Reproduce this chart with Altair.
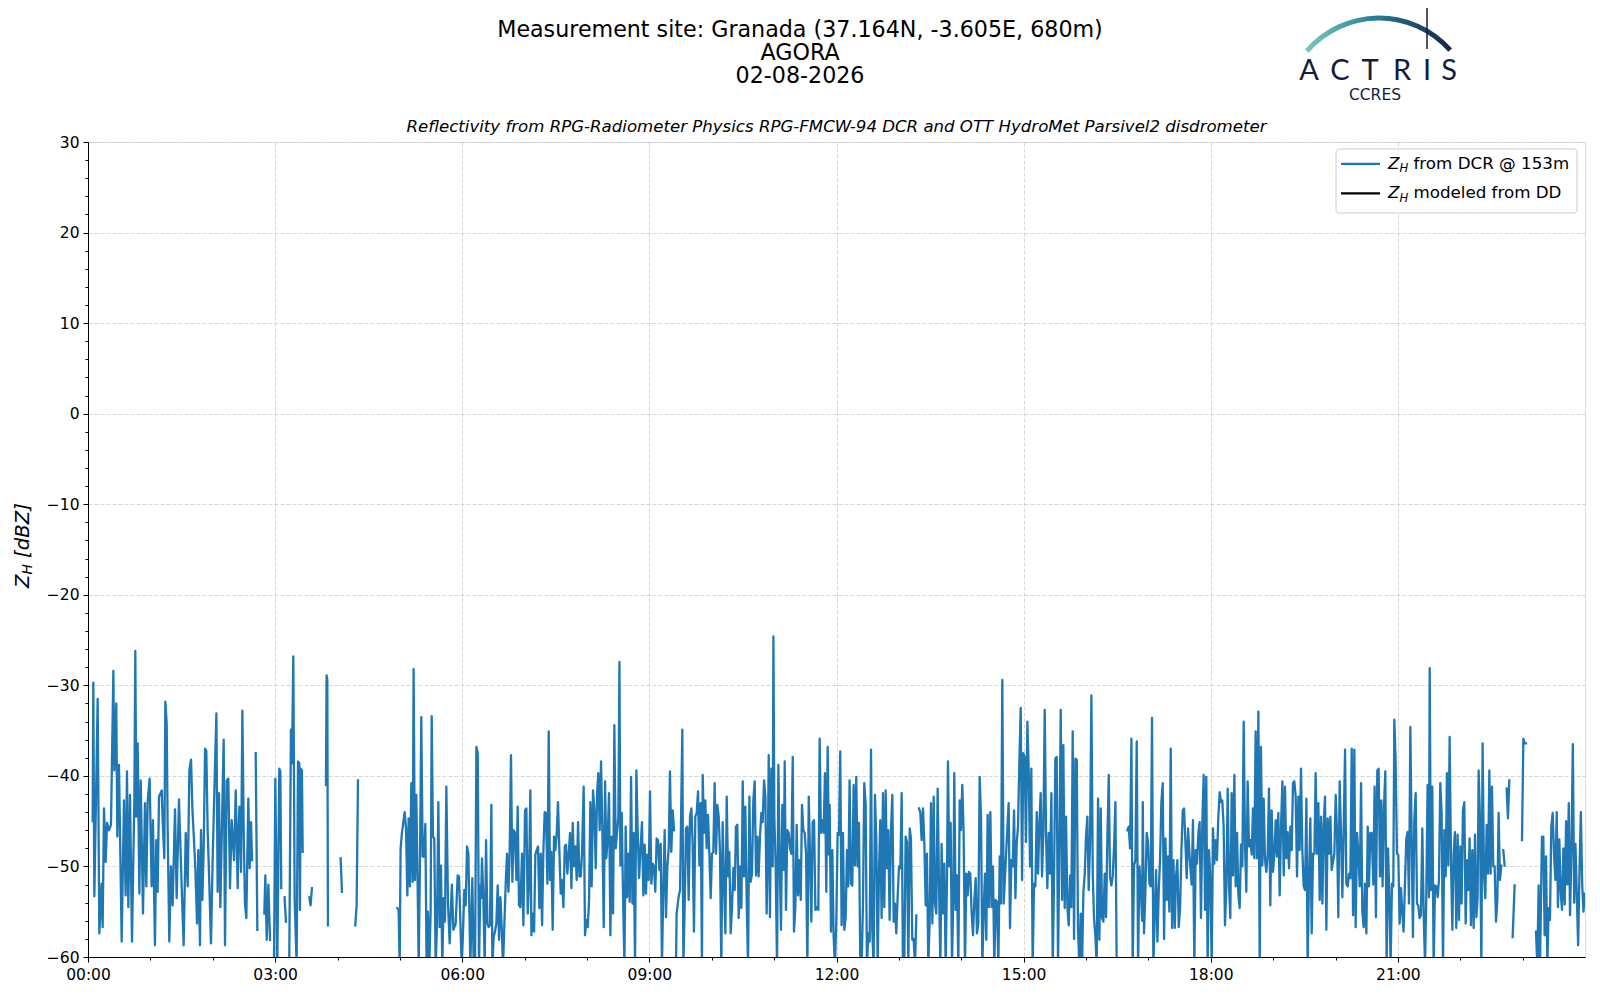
import altair as alt
import pandas as pd

# ---------------- data: (minutes after 00:00 UTC, Z_H in dBZ); None = data gap ----------------
w00_03 = [(4.5,-45.0),(5.1,-29.7),(6.1,-53.3),(9.3,-31.5),(10.9,-57.4),(13.1,-51.9),(14.1,-56.7),(15.4,-43.6),(17.0,-49.5),(18.3,-45.2),(20.2,-46.0),(22.1,-45.4),(24.4,-28.4),(25.3,-39.4),(27.2,-32.0),(28.2,-46.7),(29.8,-38.8),(32.4,-58.3),(34.6,-42.7),(36.2,-53.2),(37.5,-39.5),(38.8,-54.5),(40.4,-42.1),(42.3,-58.3),(44.6,-42.3),(45.5,-26.2),(46.5,-44.5),(47.8,-36.4),(49.4,-53.0),(50.7,-40.5),(52.9,-55.2),(54.8,-43.0),(56.1,-52.2),(57.4,-42.8),(59.3,-40.3),(61.2,-52.2),(62.5,-44.9),(64.4,-58.7),(65.7,-47.1),(67.0,-52.8),(68.3,-42.3),(70.9,-41.6),(71.8,-44.9),(73.4,-49.1),(74.4,-31.8),(75.7,-34.2),(76.6,-45.6),(78.2,-58.3),(79.8,-50.0),(81.4,-54.3),(83.7,-43.7),(85.3,-53.5),(87.5,-42.6),(90.1,-52.2),(92.0,-58.7),(94.0,-46.3),(95.9,-52.2),(97.5,-39.4),(99.1,-38.2),(100.4,-43.6),(101.6,-46.3),(103.3,-50.4),(104.9,-56.3),(106.1,-48.2),(107.7,-58.7),(108.7,-46.0),(110.0,-53.7),(111.3,-47.8),(112.6,-37.0),(113.8,-37.2),(115.1,-46.0),(116.7,-51.9),(118.3,-58.5),(119.9,-49.3),(121.5,-41.9),(123.5,-33.1),(124.7,-52.8),(126.0,-41.9),(127.3,-54.5),(129.2,-43.4),(130.5,-36.0),(131.8,-58.7),(133.4,-40.5),(135.0,-40.3),(136.6,-52.4),(138.2,-44.9),(140.5,-49.3),(142.1,-41.6),(144.0,-52.4),(144.6,-47.1),(145.6,-43.4),(147.2,-50.6),(148.5,-32.8),(149.8,-46.3),(151.0,-54.1),(152.3,-55.7),(154.2,-42.5),(155.5,-50.2),(156.8,-45.1),(157.8,-49.3),None,(161.3,-37.5),(162.9,-57.0),None,(169.6,-55.2),(170.6,-51.0),(171.9,-58.1),(173.5,-52.0),(175.1,-58.1),None,(178.9,-61.0)]

w03_06 = [(180.2,-40.3),(182.1,-61.0),(184.0,-39.2),(185.0,-39.5),(185.9,-52.4),None,(189.1,-53.4),(190.4,-56.1),None,(193.5,-62.0),(195.2,-34.9),(196.2,-38.6),(197.5,-26.8),(198.8,-53.7),(200.7,-61.0),(202.0,-38.4),(203.2,-38.6),(203.9,-54.8),(204.5,-39.2),(205.8,-39.4),(206.5,-48.4),None,(212.9,-53.4),(214.1,-54.3),(215.4,-52.4),None,(228.9,-41.0),(229.5,-28.9),(230.2,-29.4),(230.8,-56.5),None,(243.0,-49.1),(244.3,-52.8),None,(257.1,-56.5),(258.4,-54.3),(259.7,-40.5),None,(297.5,-54.6),(298.8,-54.8),(299.8,-61.0),(300.7,-48.0),(302.0,-46.3),(304.6,-44.0),(305.9,-45.8),(307.2,-53.2),(308.4,-44.7),(309.7,-52.2),(311.0,-40.8),(312.3,-51.7),(313.2,-28.2),(314.5,-51.5),(315.8,-42.1),(317.1,-52.2),(318.1,-61.0),(319.3,-50.0),(320.6,-33.5),(321.9,-48.9),(323.2,-48.9),(324.5,-45.3),(325.7,-61.0),(327.0,-55.0),(328.3,-61.0),(329.6,-55.0),(330.6,-33.4),(331.8,-46.7),(333.1,-46.9),(334.4,-61.0),(335.7,-56.5),(337.0,-42.9),(338.3,-56.7),(339.5,-49.9),(340.8,-61.0),(342.1,-53.5),(343.4,-56.1),(344.7,-41.2),(346.3,-54.1),(347.9,-58.5),(350.0,-52.0),(351.5,-57.0),(353.7,-56.3),(355.6,-51.0),(356.9,-51.1)]

w06_09 = [(359.5,-61.0),(360.7,-57.4),(362.0,-52.6),(363.3,-54.3),(364.6,-47.8),(365.9,-48.6),(367.8,-61.0),(369.7,-51.3),(371.0,-61.0),(372.3,-61.0),(373.6,-36.8),(374.9,-37.5),(376.1,-61.0),(377.4,-52.1),(378.1,-53.5),(379.0,-49.1),(380.3,-53.5),(381.6,-61.0),(382.9,-47.1),(384.2,-56.3),(385.4,-56.7),(386.7,-56.5),(388.0,-43.2),(389.0,-61.0),(390.2,-57.8),(391.5,-57.2),(392.8,-56.3),(394.1,-52.1),(395.4,-58.1),(396.7,-53.4),(397.9,-56.5),(399.2,-61.0),(400.5,-56.5),(401.8,-51.9),(403.1,-48.6),(404.4,-52.8),(405.6,-48.6),(406.9,-37.7),(408.2,-51.7),(409.5,-46.0),(410.8,-46.3),(412.1,-51.5),(413.3,-43.4),(414.6,-54.3),(415.9,-54.5),(417.5,-48.6),(418.8,-56.5),(420.4,-43.8),(421.7,-43.6),(423.0,-55.2),(424.2,-51.7),(425.5,-41.6),(426.5,-57.6),(427.8,-55.2),(429.1,-57.2),(430.3,-48.7),(431.6,-48.2),(432.9,-47.8),(434.2,-54.6),(435.5,-48.6),(436.8,-56.5),(438.0,-48.4),(439.3,-44.0),(440.6,-44.1),(441.9,-51.9),(443.2,-35.1),(444.4,-51.5),(445.7,-48.4),(447.0,-57.0),(448.3,-46.7),(449.6,-48.2),(450.9,-46.3),(452.1,-42.9),(453.4,-48.2),(454.7,-53.0),(456.0,-51.5),(457.3,-54.5),(458.6,-47.8),(459.8,-47.6),(461.1,-50.8),(462.4,-48.6),(463.7,-46.3),(465.0,-52.4),(466.3,-45.2),(467.5,-50.0),(468.8,-47.8),(470.1,-51.5),(471.4,-45.1),(472.7,-51.1),(474.0,-51.1),(475.2,-48.6),(476.8,-41.2),(478.1,-57.6),(479.4,-55.9),(480.7,-56.7),(482.0,-53.7),(483.2,-42.9),(484.5,-52.2),(485.8,-41.6),(487.1,-43.8),(488.4,-50.2),(489.7,-41.9),(490.9,-39.7),(492.2,-46.0),(493.5,-38.4),(494.8,-46.3),(496.1,-56.7),(497.4,-40.6),(498.6,-49.1),(499.9,-46.9),(501.2,-41.9),(502.5,-57.6),(503.8,-46.7),(505.1,-55.2),(506.3,-34.4),(507.6,-48.0),(508.9,-46.3),(510.2,-44.5),(511.2,-27.4),(512.1,-49.9),(513.4,-44.1),(514.7,-53.5),(516.0,-61.0),(517.2,-45.6),(518.5,-53.4),(519.8,-48.6),(521.1,-53.9),(522.4,-40.1),(523.7,-54.1),(524.9,-46.3),(526.2,-61.0),(527.5,-39.4),(528.8,-46.3),(530.1,-51.3),(531.4,-48.2)]

w09_12 = [(532.9,-45.1),(534.2,-53.2),(535.5,-47.6),(536.7,-53.0),(538.0,-48.7),(539.3,-51.5),(540.6,-41.7),(541.9,-51.9),(543.2,-49.7),(544.4,-50.0),(545.7,-52.8),(547.0,-46.9),(548.3,-47.1),(549.6,-50.4),(550.9,-47.5),(552.1,-61.0),(553.4,-52.6),(554.7,-46.0),(556.0,-55.6),(557.3,-50.0),(558.6,-48.0),(559.8,-39.5),(561.1,-48.4),(562.4,-43.8),(563.7,-46.0),None,(565.6,-61.0),(566.2,-55.2),(568.2,-53.3),(569.5,-52.6),(571.7,-34.9),(572.7,-61.0),(574.0,-54.1),(575.2,-45.8),(576.5,-45.6),(577.8,-53.7),(579.1,-44.5),(580.4,-43.6),(581.6,-47.5),(582.9,-57.2),(584.2,-44.5),(585.5,-44.1),(586.8,-41.7),(588.1,-49.9),(589.3,-43.0),(590.6,-61.0),(591.3,-39.9),(592.5,-46.3),(593.8,-42.7),(595.1,-48.0),(596.4,-44.3),(597.7,-48.6),(599.0,-53.5),(600.2,-48.6),(601.5,-48.4),(602.8,-40.8),(604.1,-48.6),(605.4,-43.2),(606.7,-44.5),(607.9,-48.4),(609.2,-61.0),(610.5,-45.1),(611.8,-51.7),(613.1,-57.4),(614.4,-42.3),(615.7,-51.1),(616.9,-48.4),(618.2,-57.4),(619.5,-54.5),(620.8,-50.2),(622.1,-52.6),(623.3,-45.6),(624.6,-45.4),(625.9,-55.7),(627.2,-50.0),(628.5,-54.6),(629.8,-40.6),(631.0,-51.1),(632.3,-43.4),(633.6,-53.7),(634.9,-61.0),(636.2,-42.3),(637.4,-51.7),(638.7,-50.8),(640.0,-42.7),(641.3,-40.6),(642.6,-51.0),(643.9,-46.7),(645.1,-51.1),(646.4,-46.7),(647.7,-44.1),(649.0,-45.1),(650.3,-40.5),(651.6,-42.3),(652.8,-55.2),(654.1,-46.9),(654.8,-37.7),(656.0,-55.6),(657.3,-39.2),(658.6,-50.0),(659.3,-24.6),(660.2,-44.5),(661.5,-50.0),(662.8,-61.0),(664.1,-38.8),(665.4,-49.7),(666.6,-57.0),(667.9,-43.2),(669.2,-50.4),(670.2,-38.4),(671.4,-54.8),(672.7,-46.0),(674.0,-46.3),(675.3,-48.0),(676.6,-48.6),(677.9,-37.9),(679.1,-57.2),(680.4,-54.5),(681.7,-45.4),(683.0,-53.2),(684.3,-49.3),(685.6,-53.7),(686.8,-43.2),(688.1,-46.0),(689.4,-46.3),(690.7,-48.6),(692.0,-61.0),(693.3,-42.3),(694.5,-48.6),(695.8,-56.1),(697.1,-45.1),(698.4,-44.9),(699.7,-54.8),(701.0,-54.5)]

w12_15 = [(702.5,-54.8),(703.8,-35.9),(705.0,-46.3),(706.3,-44.9),(707.6,-46.3),(708.9,-39.7),(710.2,-52.8),(711.5,-36.8),(712.7,-48.7),(713.4,-43.2),(714.7,-57.2),(716.0,-48.2),(717.2,-57.6),(718.5,-61.0),(719.8,-56.1),(721.1,-46.3),(722.4,-46.5),(723.6,-37.3),(724.9,-56.5),(726.2,-46.3),(727.5,-57.0),(728.8,-55.7),(730.1,-48.2),(731.3,-52.2),(732.6,-40.5),(733.9,-51.9),(735.2,-52.1),(736.5,-41.0),(737.8,-49.9),(739.0,-40.1),(740.3,-50.0),(741.6,-45.2),(742.9,-61.0),(744.2,-61.0),(745.5,-53.9),(746.7,-40.8),(748.0,-43.0),(749.3,-61.0),(750.6,-57.4),(751.9,-58.3),(753.2,-37.1),(754.4,-57.0),(755.7,-61.0),(757.0,-42.1),(758.3,-47.1),(759.6,-61.0),(760.9,-50.4),(762.1,-44.9),(763.4,-55.7),(764.7,-41.9),(766.0,-54.5),(767.3,-41.6),(768.5,-50.2),(769.8,-46.0),(771.1,-55.9),(772.4,-46.0),(773.7,-42.1),(775.0,-56.1),(776.2,-54.1),(777.5,-57.4),(778.8,-53.4),(780.1,-50.0),(781.4,-50.2),(782.7,-41.9),(783.9,-61.0),(785.2,-61.0),(786.5,-46.7),(787.8,-47.3),(789.1,-61.0),(790.4,-45.8),(791.6,-46.9),(792.9,-58.1),(794.2,-58.0),(795.5,-61.0),(796.8,-55.4),None,(799.3,-43.6),(800.6,-44.0),(801.9,-47.1),(803.2,-43.6),(804.5,-47.5),(805.8,-54.3),(807.0,-48.6),(808.3,-61.0),(809.6,-56.1),(810.9,-43.0),(812.2,-56.3),(813.5,-42.3),(814.7,-54.1),(816.0,-55.2),(817.3,-41.4),(818.6,-51.9),(819.9,-61.0),(821.1,-47.5),(822.4,-55.2),(823.7,-49.7),(825.0,-61.0),(826.3,-51.1),(827.2,-38.4),(828.5,-50.0),(829.8,-45.2),(831.1,-61.0),(832.4,-53.0),(833.3,-39.7),(834.6,-54.8),(835.9,-51.0),(837.2,-61.0),(838.5,-42.7),(839.7,-46.0),(841.0,-41.0),(842.3,-46.3),(843.6,-61.0),(844.9,-50.8),(846.2,-53.2),(847.4,-50.6),(848.7,-50.8),(850.0,-55.2),(851.3,-57.6),(852.6,-53.7),(853.9,-51.3),(855.1,-57.4),(856.4,-56.3),(857.7,-40.1),(859.0,-44.5),(860.3,-61.0),(861.6,-54.8),(862.8,-50.8),(864.1,-58.1),(865.4,-44.3),(866.7,-54.5),(868.0,-44.0),(869.3,-54.5),(870.5,-50.0),(871.8,-61.0),(873.1,-53.7),(874.4,-53.9),(875.7,-61.0),(877.0,-48.9),(878.2,-54.1),(879.5,-29.4),(880.8,-54.1),(882.1,-51.1),(883.4,-48.0)]

w15_18 = [(885.6,-43.0),(886.9,-56.8),(888.2,-49.3),(889.5,-50.0),(890.8,-43.8),(892.1,-53.5),(893.3,-47.5),(894.6,-45.6),(895.9,-38.4),(897.2,-32.5),(898.5,-51.5),(899.7,-37.5),(901.0,-37.9),(902.3,-47.3),(903.6,-34.0),(904.9,-39.4),(906.2,-50.0),(907.4,-39.2),(908.7,-61.0),(910.0,-51.9),(911.3,-52.2),(912.6,-44.0),(913.9,-50.8),(915.1,-45.4),(916.4,-41.9),(917.7,-51.1),(919.0,-46.0),(920.3,-32.7),(921.6,-46.9),(922.8,-52.4),(924.1,-46.3),(925.4,-50.8),(926.7,-41.9),(928.0,-61.0),(929.3,-50.8),(930.5,-38.1),(931.8,-37.9),(933.1,-61.0),(934.4,-47.5),(935.7,-32.7),(937.0,-53.7),(938.2,-36.6),(939.5,-54.6),(940.8,-44.5),(942.1,-54.5),(943.4,-56.5),(944.7,-51.0),(945.9,-54.5),(947.2,-35.1),(948.5,-58.0),(949.8,-38.1),(951.1,-38.2),(952.3,-56.8),(953.6,-61.0),(954.9,-55.2),(956.2,-61.0),(957.5,-52.8),(958.8,-50.8),(960.0,-46.7),(961.3,-44.5),(962.6,-52.6),(963.9,-47.3),(965.2,-31.1),(966.5,-50.8),(967.7,-55.7),(969.0,-57.6),(970.3,-61.0),(971.6,-42.5),(972.9,-58.1),(974.2,-43.6),(975.4,-55.7),(976.7,-56.1),(978.0,-50.8),(979.3,-55.6),(980.6,-46.7),(981.9,-39.9),(983.1,-51.1),(984.4,-52.1),(985.7,-51.1),(987.0,-47.8),(988.3,-42.9),(989.5,-61.0),None,(999.8,-46.0),(1001.1,-45.6),(1002.4,-48.0),(1003.7,-35.9),(1004.9,-61.0),(1006.2,-49.9),(1007.5,-49.3),(1008.8,-36.2),(1010.1,-61.0),(1011.4,-50.0),(1012.6,-52.0),(1014.0,-56.0),(1014.6,-42.9),(1015.8,-57.4),(1017.1,-53.0),(1018.4,-46.3),(1019.7,-47.3),(1021.0,-51.9),(1022.3,-52.2),(1023.5,-33.6),(1024.8,-61.0),(1026.1,-55.6),(1027.4,-50.4),(1028.7,-58.3),(1030.0,-52.6),(1031.2,-49.3),(1032.5,-42.9),(1033.8,-40.8),(1035.1,-58.0),(1036.4,-46.9),(1037.7,-53.7),(1038.9,-48.9),(1040.2,-55.0),(1041.5,-37.0),(1042.8,-56.8),(1044.1,-49.3),(1045.4,-56.8),(1046.6,-51.1),(1047.9,-49.3),(1049.2,-56.7),(1050.5,-54.6),(1051.8,-48.2),(1053.1,-43.8),(1054.3,-43.6),(1055.6,-47.3),(1056.9,-51.3),(1058.2,-45.8)]

w18_21 = [(1059.7,-49.0),(1061.6,-52.0),(1062.9,-44.9),(1064.2,-61.0),(1065.5,-48.2),(1066.8,-49.7),(1068.1,-46.3),(1069.3,-45.1),(1070.6,-55.7),(1071.9,-45.1),(1073.2,-39.9),(1074.5,-54.8),(1075.7,-40.1),(1077.0,-61.0),(1078.3,-48.2),(1079.6,-51.3),(1080.9,-61.0),(1082.2,-45.8),(1083.4,-49.7),(1084.7,-47.1),(1086.0,-49.3),(1087.3,-44.5),(1088.6,-41.8),(1089.9,-42.9),(1091.1,-42.7),(1092.4,-45.6),(1093.7,-56.5),(1095.0,-52.2),(1096.3,-41.4),(1097.6,-52.2),(1098.8,-55.7),(1100.1,-41.9),(1101.4,-51.0),(1102.7,-39.9),(1104.0,-52.2),(1105.3,-46.3),(1106.5,-53.0),(1107.8,-54.6),(1109.1,-47.6),(1110.4,-50.0),(1111.7,-34.0),(1113.0,-47.8),(1114.2,-52.8),(1115.5,-40.6),(1116.8,-47.8),(1118.1,-47.1),(1119.4,-48.7),(1120.6,-43.6),(1121.9,-49.1),(1123.2,-35.1),(1124.5,-49.1),(1125.8,-32.9),(1127.1,-61.0),(1128.3,-36.8),(1129.6,-49.9),(1130.9,-42.5),(1132.2,-49.3),(1133.5,-50.6),(1134.8,-48.6),(1136.0,-41.4),(1137.3,-54.3),(1138.6,-43.8),(1139.9,-50.6),(1141.2,-48.6),(1142.5,-44.9),(1143.7,-48.9),(1145.0,-44.1),(1146.3,-53.2),(1147.6,-45.6),(1148.9,-40.6),(1150.2,-51.0),(1151.4,-41.2),(1152.7,-49.1),(1154.0,-46.2),(1155.3,-50.2),(1156.6,-45.6),(1157.9,-48.2),(1159.1,-40.8),(1160.4,-40.6),(1161.7,-42.3),(1163.0,-51.1),(1164.3,-42.3),(1165.5,-48.2),(1166.8,-39.2),(1168.1,-48.2),(1169.4,-52.2),(1170.7,-52.6),(1172.0,-42.5),(1173.2,-61.0),(1174.5,-51.3),(1175.8,-44.7),(1177.1,-57.4),(1178.4,-48.6),(1179.7,-48.6),(1180.9,-39.7),(1182.2,-48.6),(1183.5,-43.0),(1184.8,-53.7),(1186.1,-44.5),(1187.4,-54.1),(1188.6,-45.6),(1189.9,-42.3),(1191.2,-57.0),(1192.5,-44.7),(1193.8,-48.6),(1195.1,-44.5),(1196.3,-50.4),(1197.6,-49.5),(1198.9,-48.6),(1200.2,-42.1),(1201.5,-46.3),(1202.7,-55.6),(1204.0,-40.6),(1205.3,-46.3),(1206.6,-53.4),(1207.9,-45.6),(1209.2,-37.1),(1210.4,-51.9),(1211.7,-52.2),(1213.0,-50.8),(1214.3,-51.3),(1215.6,-37.0),(1216.9,-55.4),(1218.1,-37.1),(1219.4,-56.7),(1220.7,-46.3),(1222.0,-48.6),(1223.3,-52.2),(1224.6,-40.8),(1225.8,-55.0),(1227.1,-56.7),(1228.4,-51.9),(1229.7,-57.4),(1231.0,-45.6),(1232.2,-52.2),(1233.5,-46.3),(1234.8,-46.3)]

w21_24 = [(1236.4,-52.0),(1237.6,-41.2),(1238.9,-55.6),(1240.2,-39.4),(1241.5,-39.2),(1242.8,-51.1),(1244.1,-42.7),(1245.3,-52.2),(1246.6,-43.6),(1247.9,-39.5),(1249.2,-61.0),(1250.5,-48.0),(1251.7,-52.8),(1253.0,-61.0),(1254.3,-51.9),(1255.6,-52.2),(1256.6,-33.8),(1257.8,-38.1),(1259.1,-48.6),(1260.4,-48.7),(1261.7,-56.3),(1263.0,-52.4),(1264.3,-55.2),(1265.5,-57.2),(1266.8,-51.9),(1268.1,-46.9),(1269.4,-46.2),(1270.7,-54.1),(1272.0,-34.6),(1273.2,-46.3),(1274.5,-57.8),(1275.8,-44.9),(1277.1,-41.9),(1278.4,-54.1),(1279.6,-54.3),(1280.9,-55.7),(1282.2,-55.4),(1283.5,-45.8),(1284.8,-55.0),(1286.1,-61.0),(1287.3,-53.4),(1288.6,-41.0),(1289.9,-53.4),(1290.6,-28.1),(1291.8,-52.6),(1293.1,-41.2),(1294.4,-61.0),(1295.7,-52.1),(1297.0,-52.2),(1298.3,-53.4),(1299.5,-51.5),(1300.8,-40.8),(1302.1,-44.1),(1303.4,-61.0),(1304.7,-46.0),(1306.0,-51.1),(1307.2,-39.7),(1308.5,-49.9),(1309.8,-35.7),(1311.1,-49.5),(1312.4,-57.0),(1313.6,-48.6),(1314.9,-46.2),(1316.2,-56.8),(1317.5,-46.5),(1318.8,-55.9),(1320.1,-47.8),(1321.3,-54.1),(1322.6,-43.8),(1323.9,-42.9),(1325.2,-56.3),(1326.5,-49.3),(1327.8,-52.6),(1329.0,-46.9),(1330.3,-56.5),(1331.6,-48.2),(1332.9,-56.8),(1334.2,-46.5),(1335.5,-55.6),(1336.7,-53.5),(1337.7,-39.4),(1339.0,-44.9),(1340.3,-61.0),(1341.5,-36.4),(1342.8,-50.8),(1344.1,-53.5),(1345.4,-45.4),(1346.7,-50.8),(1348.0,-39.4),(1349.2,-50.8),(1350.5,-41.2),(1351.8,-50.0),(1353.1,-50.0),(1354.4,-56.1),(1355.7,-53.7),(1356.9,-44.1),(1358.2,-51.5),(1359.5,-49.9),None,(1361.4,-48.2),(1362.7,-49.9),None,(1364.6,-41.4),(1365.9,-44.7),(1367.2,-40.5),None,(1370.4,-57.8),(1372.3,-52.1),None,(1379.4,-47.1),(1380.7,-35.9),(1382.0,-36.4),(1383.2,-36.4),None,(1392.9,-57.2),(1394.1,-61.0),(1395.4,-52.1),(1396.7,-61.0),(1398.6,-46.7),(1399.9,-46.7),(1401.2,-57.6),(1402.5,-48.9),(1403.8,-61.0),(1405.0,-54.6),(1406.3,-55.9),(1407.6,-45.6),(1408.9,-44.1),(1410.2,-48.6),(1411.5,-51.5),(1412.8,-44.0),(1414.0,-54.5),(1415.3,-47.0),(1416.6,-52.8),(1417.9,-54.8),(1419.2,-48.0),(1420.5,-54.2),(1421.8,-45.0),(1423.1,-52.0),(1424.4,-43.0),(1425.6,-55.4),(1427.0,-48.0),(1428.3,-36.5),(1429.6,-54.0),(1430.8,-47.5),(1432.1,-53.0),(1433.4,-58.7),(1434.7,-50.5),(1436.0,-44.0),(1437.3,-52.0),(1438.5,-55.0),(1439.8,-53.0)]

title_lines = ["Measurement site: Granada (37.164N, -3.605E, 680m)", "AGORA", "02-08-2026"]
subtitle = "Reflectivity from RPG-Radiometer Physics RPG-FMCW-94 DCR and OTT HydroMet Parsivel2 disdrometer"
legend_rest = ["from DCR @ 153m", "modeled from DD"]
legend_colors = ["#1f77b4", "#000000"]

# ---------------- build table ----------------
rows = []
seg = 0
for w in [w00_03, w03_06, w06_09, w09_12, w12_15, w15_18, w18_21, w21_24]:
    for item in w:
        if item is None:
            seg += 1
        else:
            rows.append({"t": item[0], "zh": item[1], "seg": seg})
df = pd.DataFrame(rows)

W, H = 1497, 815
FONT = "DejaVu Sans"
NAVY = "#141c3e"
TICK_FS = 15.5

x_axis = alt.Axis(
    values=list(range(0, 1440, 60)),
    labelExpr="datum.value % 180 == 0 ? (datum.value < 600 ? '0' : '') + floor(datum.value / 60) + ':00' : ''",
    labelOverlap=False, labelFlush=False, labelFont=FONT, labelFontSize=TICK_FS, labelColor="black",
    labelPadding=5,
    tickSize={"condition": {"test": "datum.value % 180 == 0", "value": 5}, "value": 3},
    tickColor="black", tickWidth=1, domainColor="black", domainWidth=1,
    grid=True, gridColor="#cccccc", gridWidth=0.8, gridDash=[4, 2],
    gridOpacity={"condition": {"test": "datum.value % 180 == 0", "value": 1}, "value": 0},
    title="",
)
y_axis = alt.Axis(
    values=list(range(-60, 31, 2)),
    labelExpr="datum.value % 10 == 0 ? (datum.value < 0 ? '\u2212' + (-datum.value) : '' + datum.value) : ''",
    labelOverlap=False, labelFlush=False, labelFont=FONT, labelFontSize=TICK_FS, labelColor="black",
    labelPadding=4,
    tickSize={"condition": {"test": "datum.value % 10 == 0", "value": 5}, "value": 3},
    tickColor="black", tickWidth=1, domainColor="black", domainWidth=1,
    grid=True, gridColor="#cccccc", gridWidth=0.8, gridDash=[4, 2],
    gridOpacity={"condition": {"test": "datum.value % 10 == 0", "value": 1}, "value": 0},
    title="",
)

line = alt.Chart(df).mark_line(
    color="#1f77b4", strokeWidth=2.3, clip=True, strokeJoin="round", strokeCap="square"
).encode(
    x=alt.X("t:Q", scale=alt.Scale(domain=[0, 1440], nice=False, zero=False), axis=x_axis),
    y=alt.Y("zh:Q", scale=alt.Scale(domain=[-60, 30], nice=False, zero=False), axis=y_axis),
    detail="seg:N",
)

dummy = pd.DataFrame({"k": [0]})


def txt(text, x, y, size, style="normal", align="center", baseline="middle", angle=0,
        color="black", font=FONT, weight="normal"):
    return alt.Chart(dummy).mark_text(
        text=text, fontSize=size, fontStyle=style, align=align, baseline=baseline,
        angle=angle, color=color, font=font, fontWeight=weight
    ).encode(x=alt.value(x), y=alt.value(y))


layers = [line]

# titles
for ln, yy in zip(title_lines, [-112.3, -89.5, -66.0]):
    layers.append(txt(ln, 712, yy, 22.2))
layers.append(txt(subtitle, 748.5, -14.8, 16.6, style="italic"))

# y-axis title: Z_H [dBZ]
YT = 19.7
layers.append(txt("Z", -65.5, 446, YT, style="italic", align="left", angle=270))
layers.append(txt("H", -60.5, 432.5, 13.8, style="italic", align="left", angle=270))
layers.append(txt("[dBZ]", -65.5, 416, YT, style="italic", align="left", angle=270))

# legend
LX = -4
layers.append(alt.Chart(dummy).mark_rect(
    cornerRadius=3, fill="white", fillOpacity=0.8, stroke="#cccccc", strokeWidth=1
).encode(x=alt.value(1252 + LX), x2=alt.value(1493 + LX), y=alt.value(7), y2=alt.value(71)))
for i, (rest, col) in enumerate(zip(legend_rest, legend_colors)):
    yy = 21.8 + i * 29.6
    layers.append(alt.Chart(dummy).mark_rule(color=col, strokeWidth=2.3).encode(
        x=alt.value(1257 + LX), x2=alt.value(1296 + LX), y=alt.value(yy)))
    layers.append(txt("Z", 1304 + LX, yy, 16.7, style="italic", align="left"))
    layers.append(txt("H", 1315.4 + LX, yy + 4.5, 11.7, style="italic", align="left"))
    layers.append(txt(rest, 1329.5 + LX, yy, 16.7, align="left"))

# ACTRIS / CCRES logo
grad = alt.LinearGradient(
    gradient="linear",
    stops=[alt.GradientStop(color="#79c9c4", offset=0),
           alt.GradientStop(color="#2a8296", offset=0.45),
           alt.GradientStop(color="#17224a", offset=1)],
    x1=0, x2=1, y1=0, y2=0,
)
layers.append(alt.Chart(dummy).mark_arc(
    radius=97.5, radius2=92.5, theta=5.42, theta2=7.13, fill=grad
).encode(x=alt.value(1291), y=alt.value(-29)))
layers.append(alt.Chart(dummy).mark_rule(color=NAVY, strokeWidth=1.5).encode(
    x=alt.value(1339), y=alt.value(-142), y2=alt.value(-93)))
for letter, lx in zip("ACTRIS", [1221, 1252, 1282, 1314, 1339, 1361]):
    layers.append(txt(letter, lx, -62.5, 29, baseline="alphabetic", color=NAVY,
                      font="Lato", weight=400))
layers.append(txt("CCRES", 1287, -47.5, 15.5, color=NAVY))

chart = alt.layer(*layers).properties(
    width=W, height=H,
    autosize=alt.AutoSizeParams(type="none"),
    padding={"left": 80, "top": 134, "right": 7, "bottom": 35},
).configure_view(stroke="black", strokeWidth=1).configure(background="white")

chart.save("out.html", embed_options={"renderer": "svg", "actions": False})
